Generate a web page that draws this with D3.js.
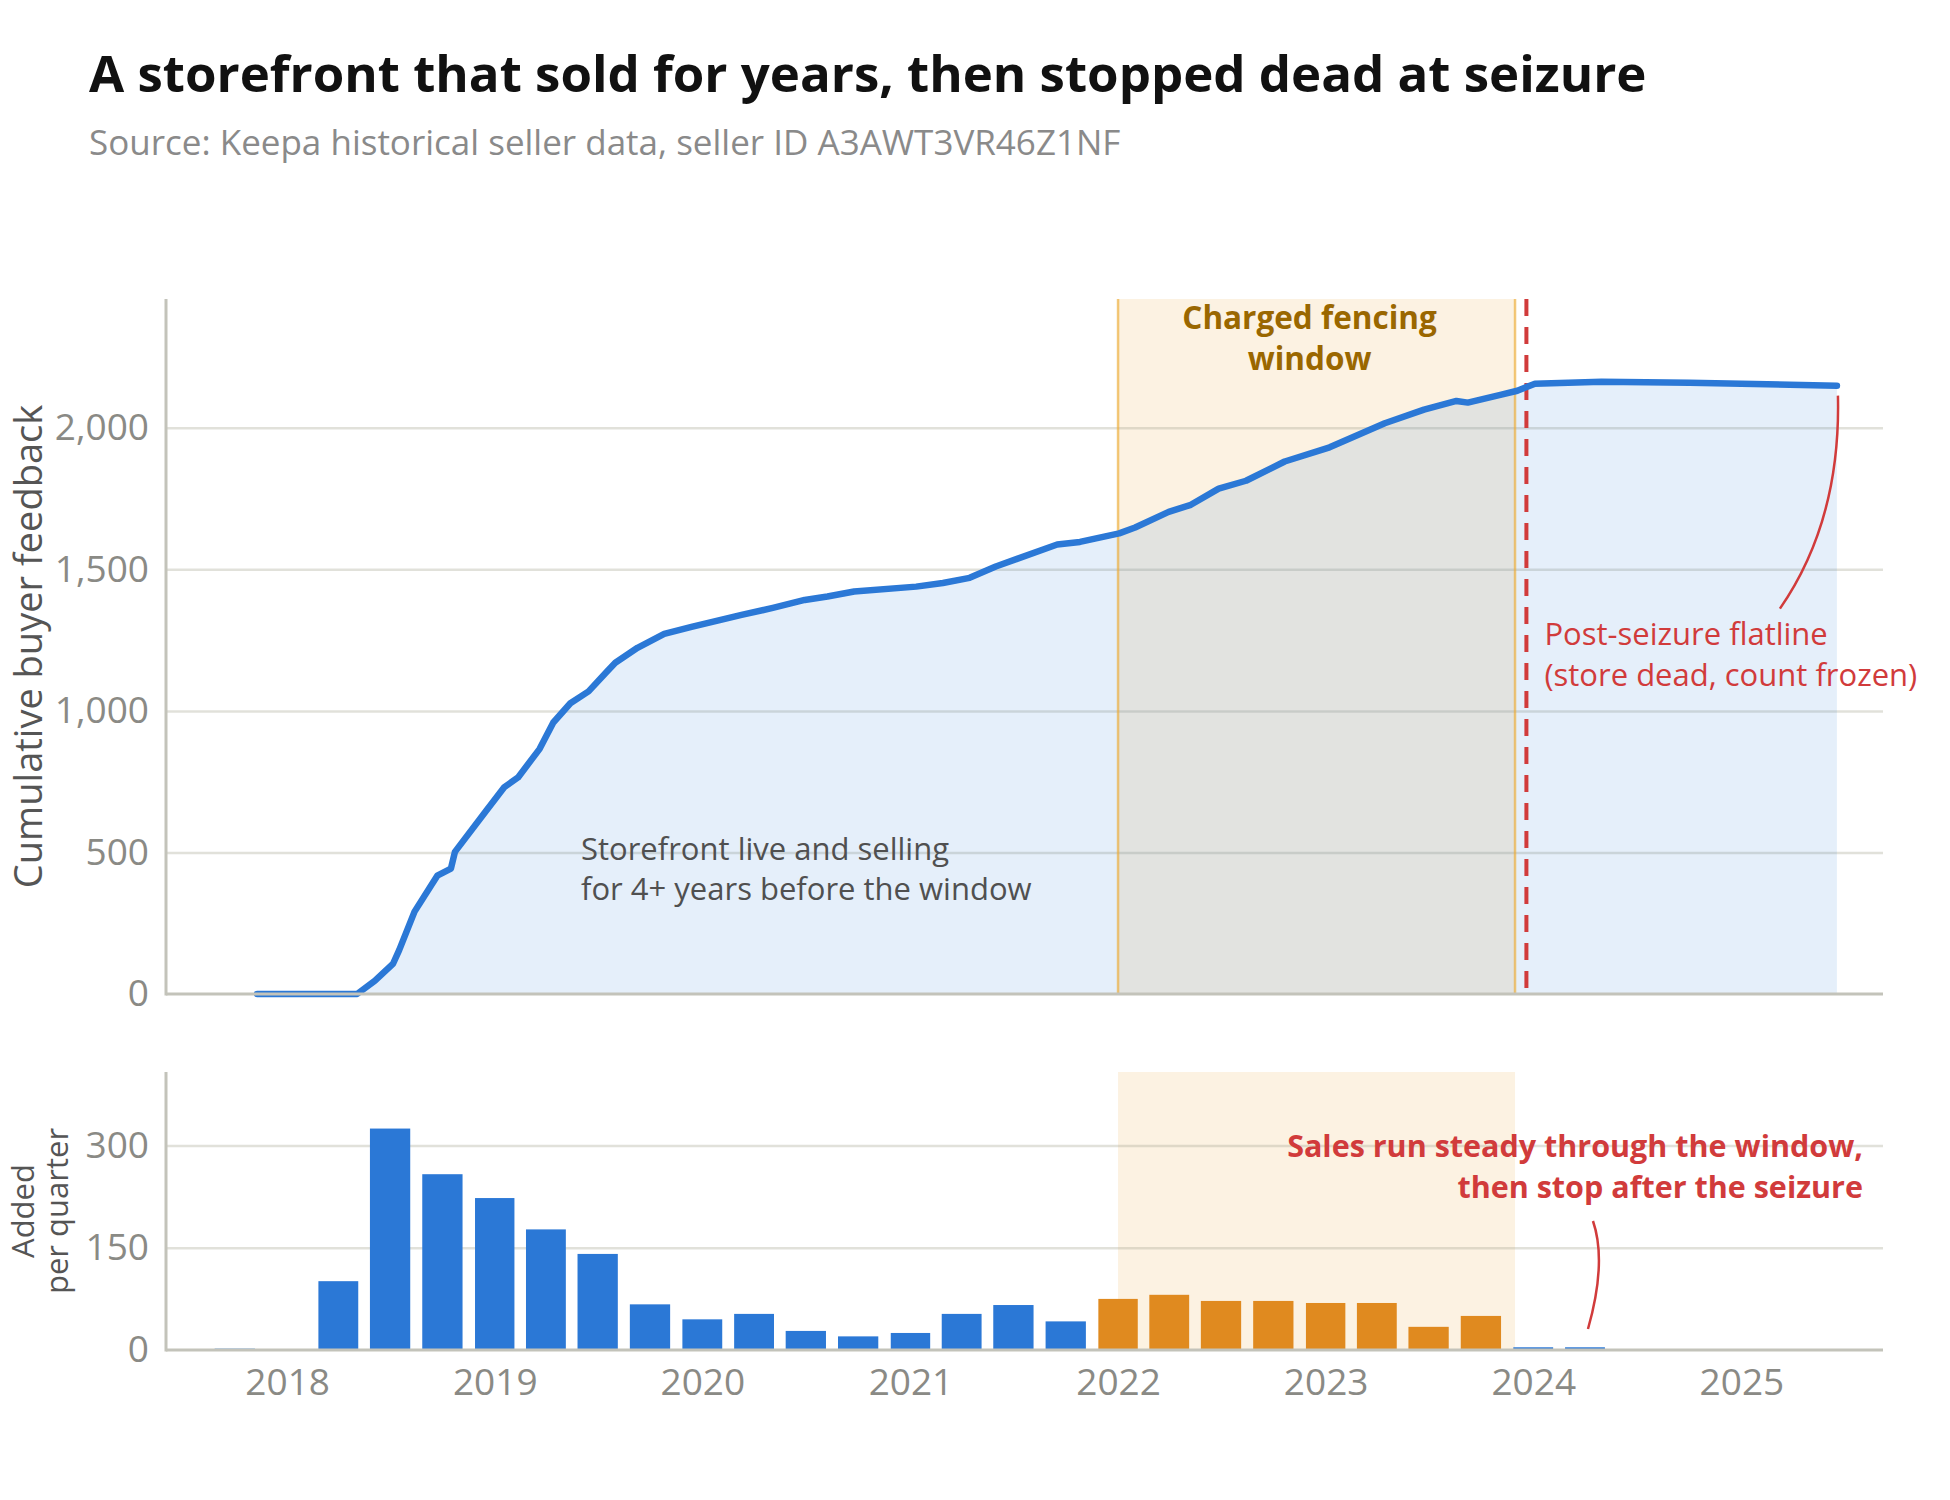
<!DOCTYPE html>
<html>
<head>
<meta charset="utf-8">
<script src="https://cdn.jsdelivr.net/npm/d3@7"></script>
<style>
  body { margin: 0; background: #fff; }
  text { font-family: "Open Sans", "Noto Sans", sans-serif; }
</style>
</head>
<body>
<script>
// cumulative feedback count
var feedbackDates = ["2017-11-09", "2018-05-04", "2018-06-04", "2018-07-06", "2018-07-17", "2018-08-13",
  "2018-09-22", "2018-10-16", "2018-10-23", "2018-12-17", "2019-01-18", "2019-02-11", "2019-03-21",
  "2019-04-14", "2019-05-14", "2019-06-15", "2019-07-17", "2019-08-01", "2019-09-09", "2019-10-26",
  "2019-12-13", "2020-03-10", "2020-05-04", "2020-06-29", "2020-08-08", "2020-09-24", "2021-01-11",
  "2021-02-27", "2021-04-15", "2021-05-31", "2021-09-16", "2021-10-26", "2022-01-03", "2022-01-31",
  "2022-03-31", "2022-05-09", "2022-06-27", "2022-08-14", "2022-10-21", "2023-01-08", "2023-04-15",
  "2023-06-23", "2023-08-19", "2023-09-08", "2023-11-06", "2023-12-04", "2024-01-04", "2024-04-30",
  "2024-10-02", "2025-06-18"];
var feedbackCounts = [0, 0, 46, 106, 155, 291,
  418, 443, 502, 647, 731, 765, 866,
  959, 1027, 1069, 1138, 1170, 1223, 1272,
  1297, 1339, 1364, 1392, 1404, 1422, 1439,
  1452, 1470, 1510, 1588, 1597, 1627, 1648,
  1703, 1728, 1785, 1813, 1881, 1931, 2016,
  2064, 2095, 2089, 2117, 2131, 2156, 2163,
  2159, 2149];

// feedback added per quarter
var quarterStarts = ["2017-10-01", "2018-01-01", "2018-04-01", "2018-07-01", "2018-10-01", "2019-01-01",
  "2019-04-01", "2019-07-01", "2019-10-01", "2020-01-01", "2020-04-01", "2020-07-01", "2020-10-01",
  "2021-01-01", "2021-04-01", "2021-07-01", "2021-10-01", "2022-01-01", "2022-04-01", "2022-07-01",
  "2022-10-01", "2023-01-01", "2023-04-01", "2023-07-01", "2023-10-01", "2024-01-01", "2024-04-01"];
var quarterAdded = [2, 0, 101, 325, 258, 223,
  177, 141, 67, 45, 53, 28, 20,
  25, 53, 66, 42, 75, 81, 72,
  72, 69, 69, 34, 50, 4, 4];

var yearTicks = [2018, 2019, 2020, 2021, 2022, 2023, 2024, 2025];
var topTicks = [0, 500, 1000, 1500, 2000];
var bottomTicks = [0, 150, 300];

var windowStart = "2022-01-01", windowEnd = "2023-11-30", seizureDate = "2023-12-20";

var W = 1950, H = 1500;
var parse = d3.utcParse("%Y-%m-%d");
var blue = "#2b78d6", orange = "#e08a1f", red = "#d13b3b";

var feedback = feedbackDates.map(function(d, i) { return { date: parse(d), value: feedbackCounts[i] }; });
var quarters = quarterStarts.map(function(d, i) { return { date: parse(d), value: quarterAdded[i] }; });

var svg = d3.select("body").append("svg")
    .attr("width", W)
    .attr("height", H);

svg.append("text")
    .attr("x", 89).attr("y", 92)
    .attr("font-size", 51).attr("font-weight", 700).attr("fill", "#111")
    .text("A storefront that sold for years, then stopped dead at seizure");

svg.append("text")
    .attr("x", 89).attr("y", 155)
    .attr("font-size", 35).attr("fill", "#8a8a8a")
    .text("Source: Keepa historical seller data, seller ID A3AWT3VR46Z1NF");

var x = d3.scaleUtc()
    .domain([parse("2017-06-02"), parse("2025-09-07")])
    .range([166, 1883]);

var yTop = d3.scaleLinear().domain([0, 2455]).range([994, 299]);
var yBot = d3.scaleLinear().domain([0, 408]).range([1350, 1072]);

var ws = parse(windowStart), we = parse(windowEnd), sz = parse(seizureDate);

// ---------- top panel ----------
var topPanel = svg.append("g").attr("class", "top");

topPanel.append("rect")
    .attr("x", x(ws)).attr("y", yTop.range()[1])
    .attr("width", x(we) - x(ws)).attr("height", yTop.range()[0] - yTop.range()[1])
    .attr("fill", "#fcf2e2");

topPanel.append("g")
    .attr("transform", "translate(166,0)")
    .call(d3.axisLeft(yTop).tickValues(topTicks.slice(1)).tickSize(-(1883 - 166)).tickFormat(""))
    .call(function(g) { g.select(".domain").remove(); })
    .selectAll("line")
    .attr("stroke", "rgba(170,170,150,0.35)")
    .attr("stroke-width", 2.5);

var area = d3.area()
    .x(function(d) { return x(d.date); })
    .y0(yTop(0))
    .y1(function(d) { return yTop(d.value); });

var line = d3.line()
    .x(function(d) { return x(d.date); })
    .y(function(d) { return yTop(d.value); });

topPanel.append("path")
    .datum(feedback)
    .attr("d", area)
    .attr("fill", blue)
    .attr("fill-opacity", 0.12);

[ws, we].forEach(function(d) {
    topPanel.append("line")
        .attr("x1", x(d)).attr("x2", x(d))
        .attr("y1", yTop.range()[1]).attr("y2", yTop(0))
        .attr("stroke", "rgba(236,170,50,0.65)")
        .attr("stroke-width", 2.5);
});

topPanel.append("line")
    .attr("x1", x(sz)).attr("x2", x(sz))
    .attr("y1", yTop.range()[1]).attr("y2", yTop(0))
    .attr("stroke", red)
    .attr("stroke-width", 4)
    .attr("stroke-dasharray", "17,11");

topPanel.append("path")
    .datum(feedback)
    .attr("d", line)
    .attr("fill", "none")
    .attr("stroke", blue)
    .attr("stroke-width", 6.5)
    .attr("stroke-linejoin", "round")
    .attr("stroke-linecap", "round");

// axes
var yAxisTop = topPanel.append("g")
    .attr("transform", "translate(166,0)")
    .call(d3.axisLeft(yTop).tickValues(topTicks).tickSize(0).tickPadding(17).tickFormat(d3.format(",")));
yAxisTop.select(".domain").remove();
yAxisTop.selectAll("text")
    .attr("font-size", 37)
    .attr("fill", "#8a8a85");

topPanel.append("line")
    .attr("x1", 166).attr("x2", 166)
    .attr("y1", yTop.range()[1]).attr("y2", yTop(0) + 1.5)
    .attr("stroke", "#c3c3ba").attr("stroke-width", 3);
topPanel.append("line")
    .attr("x1", 166).attr("x2", 1883)
    .attr("y1", yTop(0)).attr("y2", yTop(0))
    .attr("stroke", "#c3c3ba").attr("stroke-width", 3);

topPanel.append("text")
    .attr("transform", "translate(42," + (yTop(0) + yTop.range()[1]) / 2 + ") rotate(-90)")
    .attr("text-anchor", "middle")
    .attr("font-size", 38)
    .attr("fill", "#555")
    .text("Cumulative buyer feedback");

// annotations
var fenceLabel = topPanel.append("text")
    .attr("text-anchor", "middle")
    .attr("font-size", 31.5).attr("font-weight", 700)
    .attr("fill", "#9a6700");
fenceLabel.append("tspan").attr("x", (x(ws) + x(we)) / 2 - 7).attr("y", 329).text("Charged fencing");
fenceLabel.append("tspan").attr("x", (x(ws) + x(we)) / 2 - 7).attr("y", 370).text("window");

var liveLabel = topPanel.append("text")
    .attr("font-size", 31)
    .attr("fill", "#505050");
liveLabel.append("tspan").attr("x", 581).attr("y", yTop(475)).text("Storefront live and selling");
liveLabel.append("tspan").attr("x", 581).attr("y", yTop(475) + 40).text("for 4+ years before the window");

var postLabel = topPanel.append("text")
    .attr("font-size", 31)
    .attr("fill", red);
postLabel.append("tspan").attr("x", x(sz) + 18).attr("y", yTop(1233)).text("Post-seizure flatline");
postLabel.append("tspan").attr("x", x(sz) + 18).attr("y", yTop(1233) + 41).text("(store dead, count frozen)");

var lastPoint = feedback[feedback.length - 1];
topPanel.append("path")
    .attr("d", "M" + (x(lastPoint.date) + 1) + "," + (yTop(lastPoint.value) + 10) +
        " Q" + (x(lastPoint.date) + 4) + "," + (yTop(lastPoint.value) + 135) +
        " " + (x(lastPoint.date) - 57) + "," + (yTop(lastPoint.value) + 223))
    .attr("fill", "none")
    .attr("stroke", red)
    .attr("stroke-width", 2.5);

// ---------- bottom panel ----------
var botPanel = svg.append("g").attr("class", "bottom");

botPanel.append("rect")
    .attr("x", x(ws)).attr("y", yBot.range()[1])
    .attr("width", x(we) - x(ws)).attr("height", yBot.range()[0] - yBot.range()[1])
    .attr("fill", "#fcf2e2");

botPanel.append("g")
    .attr("transform", "translate(166,0)")
    .call(d3.axisLeft(yBot).tickValues(bottomTicks.slice(1)).tickSize(-(1883 - 166)).tickFormat(""))
    .call(function(g) { g.select(".domain").remove(); })
    .selectAll("line")
    .attr("stroke", "rgba(170,170,150,0.35)")
    .attr("stroke-width", 2.5);

botPanel.selectAll("rect.bar")
    .data(quarters.filter(function(d) { return d.value > 0; }))
    .enter().append("rect")
    .attr("class", "bar")
    .attr("x", function(d) {
        var w = (x(d3.utcMonth.offset(d.date, 3)) - x(d.date)) * 0.77;
        return x(d.date) - w / 2;
    })
    .attr("width", function(d) { return (x(d3.utcMonth.offset(d.date, 3)) - x(d.date)) * 0.77; })
    .attr("y", function(d) { return yBot(d.value); })
    .attr("height", function(d) { return yBot(0) - yBot(d.value); })
    .attr("fill", function(d) { return d.date >= ws && d.date < we ? orange : blue; });

var yAxisBot = botPanel.append("g")
    .attr("transform", "translate(166,0)")
    .call(d3.axisLeft(yBot).tickValues(bottomTicks).tickSize(0).tickPadding(17));
yAxisBot.select(".domain").remove();
yAxisBot.selectAll("text")
    .attr("font-size", 37)
    .attr("fill", "#8a8a85");

var xAxis = botPanel.append("g")
    .attr("transform", "translate(0," + yBot(0) + ")")
    .call(d3.axisBottom(x)
        .tickValues(yearTicks.map(function(y) { return new Date(Date.UTC(y, 0, 1)); }))
        .tickSize(0).tickPadding(19)
        .tickFormat(d3.utcFormat("%Y")));
xAxis.select(".domain").remove();
xAxis.selectAll("text")
    .attr("font-size", 37)
    .attr("fill", "#8a8a85");

botPanel.append("line")
    .attr("x1", 166).attr("x2", 166)
    .attr("y1", yBot.range()[1]).attr("y2", yBot(0) + 1.5)
    .attr("stroke", "#c3c3ba").attr("stroke-width", 3);
botPanel.append("line")
    .attr("x1", 166).attr("x2", 1883)
    .attr("y1", yBot(0)).attr("y2", yBot(0))
    .attr("stroke", "#c3c3ba").attr("stroke-width", 3);

var addedLabel = botPanel.append("text")
    .attr("transform", "translate(0," + (yBot(0) + yBot.range()[1]) / 2 + ") rotate(-90)")
    .attr("text-anchor", "middle")
    .attr("font-size", 31)
    .attr("fill", "#555");
addedLabel.append("tspan").attr("x", 0).attr("y", 34).text("Added");
addedLabel.append("tspan").attr("x", 0).attr("y", 68).text("per quarter");

var salesLabel = botPanel.append("text")
    .attr("text-anchor", "end")
    .attr("font-size", 30.5).attr("font-weight", 700)
    .attr("fill", red);
salesLabel.append("tspan").attr("x", 1863).attr("y", 1157).text("Sales run steady through the window,");
salesLabel.append("tspan").attr("x", 1863).attr("y", 1198).text("then stop after the seizure");

var lastQuarter = quarters[quarters.length - 1];
botPanel.append("path")
    .attr("d", "M" + (x(lastQuarter.date) + 8) + "," + 1221 +
        " Q" + (x(lastQuarter.date) + 22) + "," + 1262 +
        " " + (x(lastQuarter.date) + 3) + "," + (yBot(0) - 21))
    .attr("fill", "none")
    .attr("stroke", red)
    .attr("stroke-width", 2.5);
</script>
</body>
</html>
